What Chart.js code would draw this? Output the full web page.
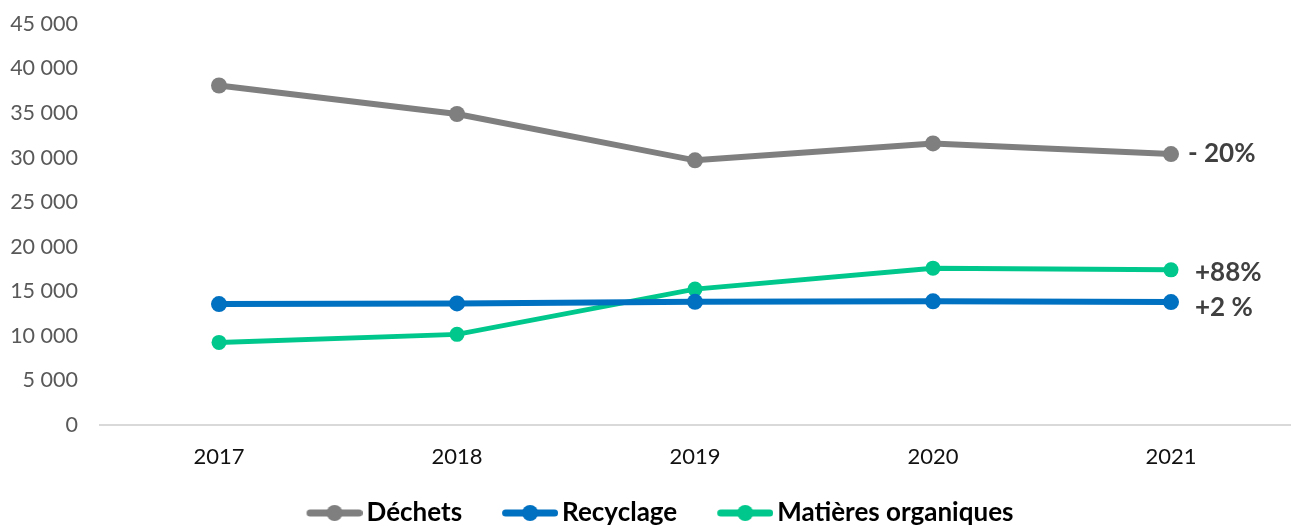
<!DOCTYPE html>
<html>
<head>
<meta charset="utf-8">
<script src="https://cdn.jsdelivr.net/npm/chart.js@4.4.1/dist/chart.umd.min.js"></script>
<style>
  html, body { margin: 0; padding: 0; background: #ffffff; overflow: hidden; }
  #wrap { width: 1299px; height: 525px; position: relative; }
</style>
</head>
<body>
<div id="wrap"><canvas id="c" width="1299" height="525"></canvas></div>
<script>
const categories = ['2017', '2018', '2019', '2020', '2021'];
const seriesNames = ['Déchets', 'Recyclage', 'Matières organiques'];
const dechets = [38100, 34900, 29700, 31600, 30400];
const recyclage = [13570, 13640, 13820, 13880, 13790];
const matieres = [9270, 10170, 15250, 17600, 17410];
const changeLabels = ['- 20%', '+2 %', '+88%'];
const yTickValues = [0, 5000, 10000, 15000, 20000, 25000, 30000, 35000, 40000, 45000];
const seriesColors = ['#7f7f7f', '#0070c0', '#00c88c'];

function fmt(v) {
  return String(v).replace(/\B(?=(\d{3})+(?!\d))/g, ' ');
}

const LEG_W = 77, LEG_P = 9;
function legendMarker(color, lw, r) {
  const cv = document.createElement('canvas');
  cv.width = LEG_W + 2 * LEG_P; cv.height = 20;
  const g = cv.getContext('2d');
  const x0 = cv.width - 56, x1 = cv.width;
  g.strokeStyle = color; g.lineWidth = lw; g.lineCap = 'round';
  g.beginPath(); g.moveTo(x0 + lw / 2, 10); g.lineTo(x1 - lw / 2, 10); g.stroke();
  g.fillStyle = color;
  g.beginPath(); g.arc((x0 + x1) / 2, 10, r, 0, Math.PI * 2); g.fill();
  return cv;
}

const labelOffsets = [[17, 0], [24, 5], [24, 3]];
const endLabels = {
  id: 'endLabels',
  afterDatasetsDraw(chart) {
    const ctx = chart.ctx;
    ctx.save();
    ctx.font = 'bold 26px Lato';
    ctx.fillStyle = '#404040';
    ctx.textAlign = 'left';
    ctx.textBaseline = 'middle';
    chart.data.datasets.forEach((ds, i) => {
      const meta = chart.getDatasetMeta(i);
      const pt = meta.data[meta.data.length - 1];
      ctx.fillText(changeLabels[i], pt.x + labelOffsets[i][0], pt.y + labelOffsets[i][1]);
    });
    ctx.restore();
  }
};

const data = {
  labels: categories,
  datasets: [
    { label: seriesNames[0], data: dechets, borderColor: seriesColors[0], backgroundColor: seriesColors[0], borderWidth: 6, pointRadius: 8, pointHoverRadius: 8, pointBorderWidth: 0 },
    { label: seriesNames[1], data: recyclage, borderColor: seriesColors[1], backgroundColor: seriesColors[1], borderWidth: 6, pointRadius: 8, pointHoverRadius: 8, pointBorderWidth: 0 },
    { label: seriesNames[2], data: matieres, borderColor: seriesColors[2], backgroundColor: seriesColors[2], borderWidth: 5, pointRadius: 7.5, pointHoverRadius: 7.5, pointBorderWidth: 0 }
  ]
};

new Chart(document.getElementById('c'), {
  type: 'line',
  data: data,
  plugins: [endLabels],
  options: {
    responsive: false,
    animation: false,
    events: [],
    layout: { padding: { top: 24, right: 9, left: 0, bottom: -11 } },
    plugins: {
      tooltip: { enabled: false },
      legend: {
        position: 'bottom',
        labels: {
          usePointStyle: true,
          pointStyleWidth: LEG_W,
          padding: 10,
          color: '#000000',
          font: { family: 'Lato', size: 26, weight: 'bold' },
          generateLabels(chart) {
            return chart.data.datasets.map((ds, i) => ({
              text: ds.label,
              fillStyle: ds.borderColor,
              strokeStyle: ds.borderColor,
              lineWidth: 0,
              pointStyle: legendMarker(ds.borderColor, 7, 8),
              hidden: false,
              datasetIndex: i,
              fontColor: '#000000'
            }));
          }
        }
      }
    },
    scales: {
      x: {
        offset: true,
        grid: { display: false, drawTicks: false },
        border: { display: true, color: '#d9d9d9', width: 2 },
        ticks: { color: '#111111', padding: 19, font: { family: 'Lato', size: 22 } },
        afterFit(scale) { scale.height = 65; }
      },
      y: {
        min: 0,
        max: 45000,
        grid: { display: false, drawTicks: false },
        border: { display: false },
        afterBuildTicks(scale) { scale.ticks = yTickValues.map(v => ({ value: v })); },
        afterFit(scale) { scale.width = 100; scale.paddingTop = 0; scale.paddingBottom = 0; },
        ticks: {
          color: '#595959',
          padding: 22,
          font: { family: 'Lato', size: 21.5 },
          callback: (v) => fmt(v)
        }
      }
    }
  }
});
</script>
</body>
</html>
